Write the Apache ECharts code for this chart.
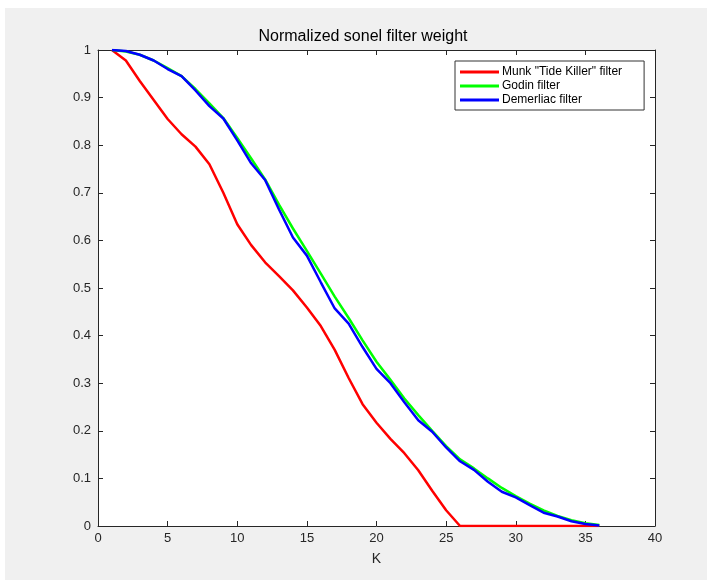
<!DOCTYPE html>
<html>
<head>
<meta charset="utf-8">
<script src="https://cdn.jsdelivr.net/npm/echarts@6/dist/echarts.min.js"></script>
<style>
  html, body { margin: 0; padding: 0; background: #ffffff; }
  #chart { width: 713px; height: 587px; }
</style>
</head>
<body>
<div id="chart"></div>
<script>
// K values (filter coefficient index)
var kValues = [1, 2, 3, 4, 5, 6, 7, 8, 9, 10, 11, 12, 13, 14, 15, 16, 17, 18,
  19, 20, 21, 22, 23, 24, 25, 26, 27, 28, 29, 30, 31, 32, 33, 34, 35, 36];

// Munk "Tide Killer" weights
var munk = [1.0, 0.978, 0.935, 0.895, 0.855, 0.823, 0.797, 0.76, 0.70, 0.634,
  0.59, 0.554, 0.525, 0.495, 0.459, 0.42, 0.37, 0.311, 0.256, 0.217,
  0.183, 0.153, 0.117, 0.074, 0.033, 0, 0, 0, 0, 0, 0, 0, 0, 0, 0, 0];

// Godin weights
var godin = [1.0, 0.997, 0.99, 0.978, 0.962, 0.945, 0.918, 0.888, 0.857, 0.815,
  0.772, 0.728, 0.675, 0.625, 0.578, 0.53, 0.482, 0.437, 0.39, 0.345,
  0.307, 0.268, 0.233, 0.2, 0.168, 0.14, 0.121, 0.1, 0.08, 0.063,
  0.047, 0.033, 0.021, 0.012, 0.006, 0.002];

// Demerliac weights
var demerliac = [1.0, 0.998, 0.99, 0.978, 0.96, 0.945, 0.915, 0.882, 0.856, 0.81,
  0.762, 0.727, 0.665, 0.606, 0.568, 0.512, 0.457, 0.425, 0.376, 0.33,
  0.3, 0.26, 0.222, 0.198, 0.165, 0.136, 0.118, 0.093, 0.072, 0.06,
  0.044, 0.028, 0.02, 0.01, 0.004, 0.001];

var xTicks = { min: 0, max: 40, interval: 5 };
var yTicks = { min: 0, max: 1, interval: 0.1 };

function pairs(ys) {
  return ys.map(function (y, i) { return [kValues[i], y]; });
}

var fontFamily = '"Liberation Sans", Arial, sans-serif';
var axisColor = '#262626';

function mirrorAxis(pos, t) {
  return {
    type: 'value',
    position: pos,
    min: t.min,
    max: t.max,
    interval: t.interval,
    axisLine: { show: true, onZero: false, lineStyle: { color: axisColor, width: 1 } },
    axisTick: { show: true, inside: true, length: 5, lineStyle: { color: axisColor } },
    axisLabel: { show: false },
    splitLine: { show: false }
  };
}

var chart = echarts.init(document.getElementById('chart'), null, { renderer: 'canvas' });

chart.setOption({
  backgroundColor: '#ffffff',
  animation: false,
  graphic: [
    {
      type: 'rect',
      z: -10,
      shape: { x: 5, y: 8, width: 702, height: 572 },
      style: { fill: '#f0f0f0' }
    },
    {
      type: 'text',
      x: 363,
      y: 37,
      style: {
        text: 'Normalized sonel filter weight',
        fontFamily: fontFamily,
        fontSize: 16,
        fill: '#000',
        textAlign: 'center',
        textVerticalAlign: 'middle'
      }
    }
  ],
  grid: {
    left: 98,
    right: 58,
    top: 50,
    bottom: 61,
    show: true,
    backgroundColor: '#ffffff',
    borderWidth: 0
  },
  legend: {
    orient: 'vertical',
    left: 455,
    top: 61,
    itemWidth: 39,
    itemHeight: 3,
    itemGap: 2,
    padding: [5, 22, 4, 5],
    icon: 'rect',
    backgroundColor: '#ffffff',
    borderColor: '#333333',
    borderWidth: 1,
    borderRadius: 0,
    textStyle: { fontFamily: fontFamily, fontSize: 12, color: '#000', padding: [0, 0, 0, -2] },
    data: ['Munk "Tide Killer" filter', 'Godin filter', 'Demerliac filter']
  },
  xAxis: [
    {
      type: 'value',
      min: xTicks.min,
      max: xTicks.max,
      interval: xTicks.interval,
      name: 'K',
      nameLocation: 'middle',
      nameGap: 26,
      nameTextStyle: { fontFamily: fontFamily, fontSize: 14, color: axisColor },
      axisLine: { show: true, onZero: false, lineStyle: { color: axisColor, width: 1 } },
      axisTick: { show: true, inside: true, length: 5, lineStyle: { color: axisColor } },
      axisLabel: { fontFamily: fontFamily, fontSize: 13, color: axisColor, margin: 6 },
      splitLine: { show: false }
    },
    mirrorAxis('top', xTicks)
  ],
  yAxis: [
    {
      type: 'value',
      min: yTicks.min,
      max: yTicks.max,
      interval: yTicks.interval,
      axisLine: { show: true, onZero: false, lineStyle: { color: axisColor, width: 1 } },
      axisTick: { show: true, inside: true, length: 5, lineStyle: { color: axisColor } },
      axisLabel: { fontFamily: fontFamily, fontSize: 13, color: axisColor, margin: 7 },
      splitLine: { show: false }
    },
    mirrorAxis('right', yTicks)
  ],
  series: [
    {
      name: 'Munk "Tide Killer" filter',
      type: 'line',
      data: pairs(munk),
      showSymbol: false,
      lineStyle: { color: '#ff0000', width: 2.5 },
      itemStyle: { color: '#ff0000' }
    },
    {
      name: 'Godin filter',
      type: 'line',
      data: pairs(godin),
      showSymbol: false,
      lineStyle: { color: '#00ff00', width: 2.5 },
      itemStyle: { color: '#00ff00' }
    },
    {
      name: 'Demerliac filter',
      type: 'line',
      data: pairs(demerliac),
      showSymbol: false,
      lineStyle: { color: '#0000ff', width: 2.5 },
      itemStyle: { color: '#0000ff' }
    }
  ]
});
</script>
</body>
</html>
